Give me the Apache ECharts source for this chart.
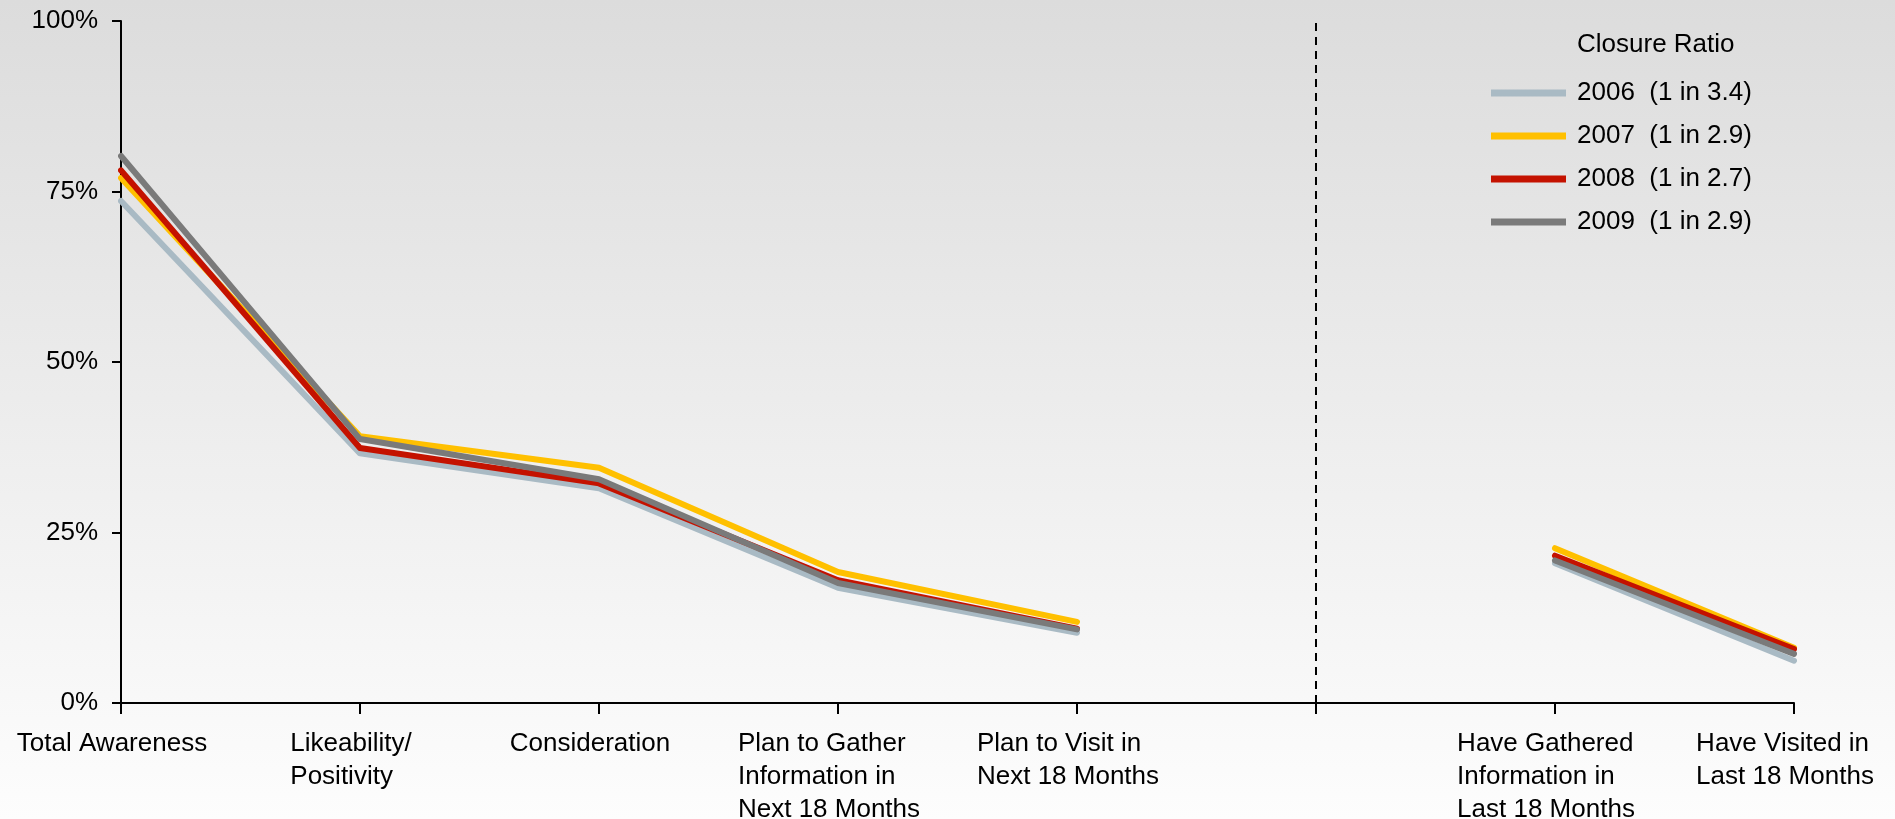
<!DOCTYPE html>
<html>
<head>
<meta charset="utf-8">
<title>Closure Ratio</title>
<script src="https://cdn.jsdelivr.net/npm/echarts/dist/echarts.min.js"></script>
<style>
  html, body { margin: 0; padding: 0; }
  #main { width: 1895px; height: 819px; }
</style>
</head>
<body>
<div id="main"></div>
<script>
  // categories (index 5 is the empty slot at the dashed divider)
  var categories = [
    'Total Awareness',
    'Likeability/\nPositivity',
    'Consideration',
    'Plan to Gather\nInformation in\nNext 18 Months',
    'Plan to Visit in\nNext 18 Months',
    '',
    'Have Gathered\nInformation in\nLast 18 Months',
    'Have Visited in\nLast 18 Months'
  ];
  var years = ['2006', '2007', '2008', '2009'];
  var ratios = ['(1 in 3.4)', '(1 in 2.9)', '(1 in 2.7)', '(1 in 2.9)'];
  var yTicks = [0, 25, 50, 75, 100];
  var dividerIndex = 5;

  // % values per year
  var data2006 = [73.6, 36.6, 31.5, 16.9, 10.3, null, 20.5, 6.2];
  var data2007 = [77.0, 39.1, 34.5, 19.2, 11.9, null, 22.7, 8.1];
  var data2008 = [78.1, 37.4, 32.2, 18.0, 10.9, null, 21.6, 7.9];
  var data2009 = [80.2, 38.7, 32.8, 17.6, 10.8, null, 20.9, 7.2];

  var colors = ['#a9bac4', '#ffc000', '#c41200', '#7a7a7a'];
  var allData = [data2006, data2007, data2008, data2009];
  var font = 'Liberation Sans, Arial, sans-serif';

  var chart = echarts.init(document.getElementById('main'));

  var series = years.map(function (y, i) {
    var s = {
      name: y,
      type: 'line',
      data: allData[i],
      showSymbol: false,
      symbol: 'none',
      connectNulls: false,
      color: colors[i],
      lineStyle: { width: 6, color: colors[i], cap: 'round', join: 'round' },
      silent: true,
      z: 2 + i
    };
    if (i === 0) {
      // dashed divider between "plan" and "have" groups
      s.markLine = {
        silent: true,
        symbol: 'none',
        label: { show: false },
        lineStyle: { color: '#000', width: 2, type: [8, 6] },
        data: [{ xAxis: dividerIndex }]
      };
    }
    return s;
  });

  chart.setOption({
    animation: false,
    backgroundColor: new echarts.graphic.LinearGradient(0, 0, 0, 1, [
      { offset: 0, color: '#dcdcdc' },
      { offset: 1, color: '#fdfdfd' }
    ]),
    title: {
      text: 'Closure Ratio',
      left: 1577,
      top: 30,
      padding: 0,
      textStyle: { fontFamily: font, fontSize: 26, fontWeight: 'normal', color: '#000', lineHeight: 30 }
    },
    legend: {
      data: years,
      orient: 'vertical',
      left: 1491,
      top: 78,
      padding: 0,
      icon: 'rect',
      itemWidth: 75,
      itemHeight: 7,
      itemGap: 13,
      formatter: function (name) {
        return name + '  ' + ratios[years.indexOf(name)];
      },
      textStyle: { fontFamily: font, fontSize: 26, color: '#000', lineHeight: 30, padding: [0, 0, 0, 6] }
    },
    grid: {
      left: 121,
      right: 101,
      top: 21,
      bottom: 116,
      containLabel: false,
      outerBoundsMode: 'none'
    },
    xAxis: {
      type: 'category',
      data: categories,
      boundaryGap: false,
      axisLine: { lineStyle: { color: '#000', width: 2 } },
      axisTick: { show: true, interval: 0, length: 11, lineStyle: { color: '#000', width: 2 } },
      axisLabel: {
        interval: 0,
        margin: 24,
        align: 'center',
        padding: [0, 18, 0, 0],
        formatter: function (v) {
          if (!v) return '';
          return v.split('\n').map(function (l) { return '{a|' + l + '}'; }).join('\n');
        },
        rich: {
          a: { align: 'left', fontFamily: font, fontSize: 26, color: '#000', lineHeight: 33 }
        }
      },
      splitLine: { show: false }
    },
    yAxis: {
      type: 'value',
      min: yTicks[0],
      max: yTicks[yTicks.length - 1],
      interval: 25,
      axisLine: { show: true, lineStyle: { color: '#000', width: 2 } },
      axisTick: { show: true, length: 9, lineStyle: { color: '#000', width: 2 } },
      axisLabel: {
        margin: 23,
        formatter: '{value}%',
        fontFamily: font,
        fontSize: 26,
        color: '#000'
      },
      splitLine: { show: false }
    },
    series: series
  });
</script>
</body>
</html>
